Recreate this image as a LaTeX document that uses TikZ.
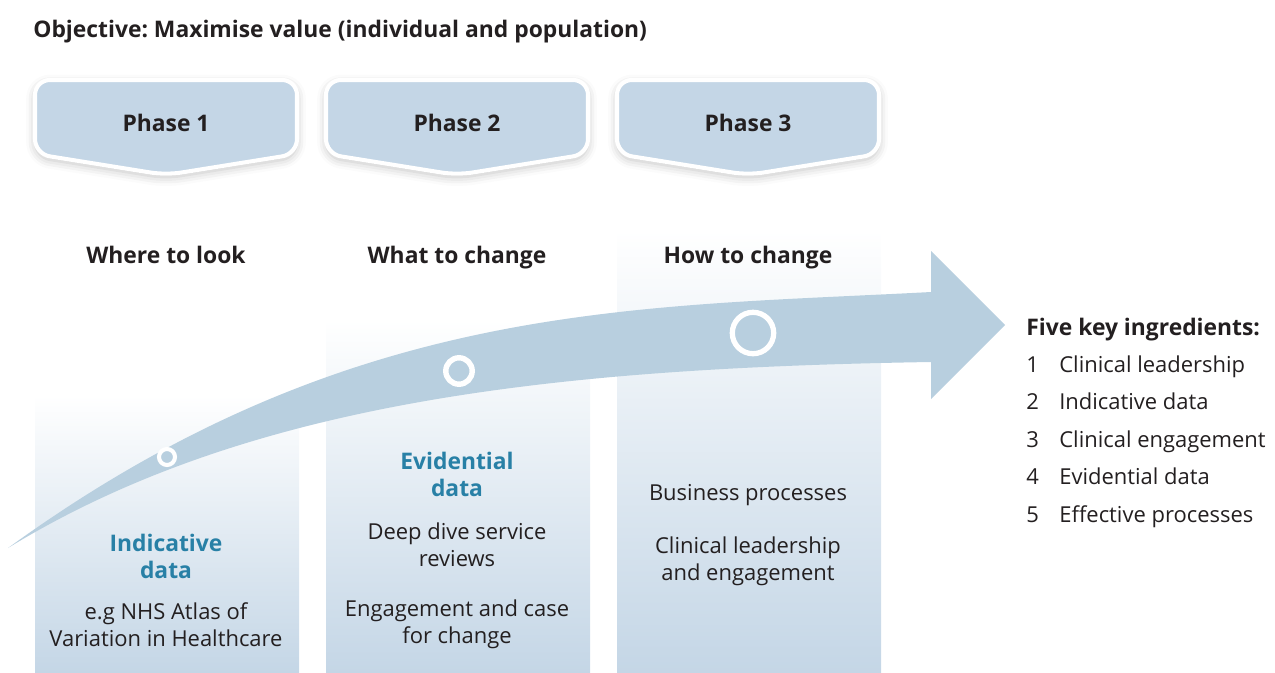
\documentclass[tikz,border=0pt]{standalone}
\usepackage{fontspec}
\setmainfont{Open Sans}
\frenchspacing
\usepackage{tikz}
\usetikzlibrary{shadows.blur}

\definecolor{phasefill}{RGB}{196,214,230}
\definecolor{arrowfill}{RGB}{184,207,223}
\definecolor{colbottom}{RGB}{196,214,230}
\definecolor{datablue}{RGB}{40,128,166}
\definecolor{textdark}{RGB}{35,31,32}

\tikzset{
  phase/.style={fill=phasefill,draw=white,line width=2.3pt,rounded corners=8.5pt,
    blur shadow={shadow xshift=0pt,shadow yshift=-2pt,shadow blur radius=5pt,shadow opacity=25}},
  boldtext/.style={inner sep=0pt,text=textdark,font=\bfseries\fontsize{13}{15.3}\selectfont},
  body/.style={inner sep=0pt,text=textdark,align=center,font=\fontsize{12.5}{15.3}\selectfont},
  datahead/.style={inner sep=0pt,text=datablue,align=center,font=\bfseries\fontsize{13}{15.3}\selectfont},
  column/.style={top color=white,bottom color=colbottom},
  ring/.style={draw=white}
}

\begin{document}
\begin{tikzpicture}[x=0.02cm,y=0.02cm]
            \useasboundingbox (0,0) rectangle (1275,-673);
            % columns
            \shade[column] (35,-395) rectangle (299,-673);
            \shade[column] (326,-320) rectangle (590,-673);
            \shade[column] (617,-230) rectangle (881,-673);
            % curved arrow
            \fill[arrowfill] (8,-548) .. controls (350,-300) and (631,-308) .. (931,-292)
              -- (931,-251) -- (1005,-325) -- (931,-399) -- (931,-362)
              .. controls (560,-368) and (250,-400) .. (8,-548) -- cycle;
            \draw[ring,line width=2.3pt] (167,-457) circle[radius=8];
            \draw[ring,line width=3.1pt] (459,-371) circle[radius=13.2];
            \draw[ring,line width=3pt] (753,-333) circle[radius=20.7];
            % phase boxes
            \draw[phase] (35,-80) -- (297,-80) -- (297,-154) -- (166,-175) -- (35,-154) -- cycle;
            \draw[phase] (326,-80) -- (588,-80) -- (588,-154) -- (457,-175) -- (326,-154) -- cycle;
            \draw[phase] (617,-80) -- (879,-80) -- (879,-154) -- (748,-175) -- (617,-154) -- cycle;
            \node[boldtext,anchor=base] (phase1) at (166,-131) {Phase 1};
            \node[boldtext,anchor=base] (phase2) at (457,-131) {Phase 2};
            \node[boldtext,anchor=base] (phase3) at (748,-131) {Phase 3};
            \node[boldtext,anchor=base west] (objective) at (33,-37) {Objective: Maximise value (individual and population)};
            % headings
            \node[boldtext,anchor=base] (look) at (166,-263) {Where to look};
            \node[boldtext,anchor=base] (what) at (457,-263) {What to change};
            \node[boldtext,anchor=base] (how) at (748,-263) {How to change};
            % column texts
            \node[datahead] (indicative) at (166,-556) {Indicative\\data};
            \node[body] (atlas) at (166,-625) {e.g NHS Atlas of\\Variation in Healthcare};
            \node[datahead] (evidential) at (457,-474) {Evidential\\data};
            \node[body] (deepdive) at (457,-545) {Deep dive service\\reviews};
            \node[body] (casechange) at (457,-624) {Engagement and case\\for change};
            \node[body] (business) at (748,-495) {Business processes};
            \node[body] (leadership) at (748,-561) {Clinical leadership\\and engagement};
            % ingredients
            \node[inner sep=0pt,text=textdark,anchor=base west,font=\fontsize{12.5}{21.3}\selectfont] (ingredients) at (1026,-335)
              {\begin{tabular}[t]{@{}p{0.66cm}@{}l@{}}
                \multicolumn{2}{@{}l@{}}{\bfseries\fontsize{13}{21.3}\selectfont Five key ingredients:}\\
                1 & Clinical leadership\\
                2 & Indicative data\\
                3 & Clinical engagement\\
                4 & Evidential data\\
                5 & Effective processes
              \end{tabular}};
        \end{tikzpicture}
\end{document}
